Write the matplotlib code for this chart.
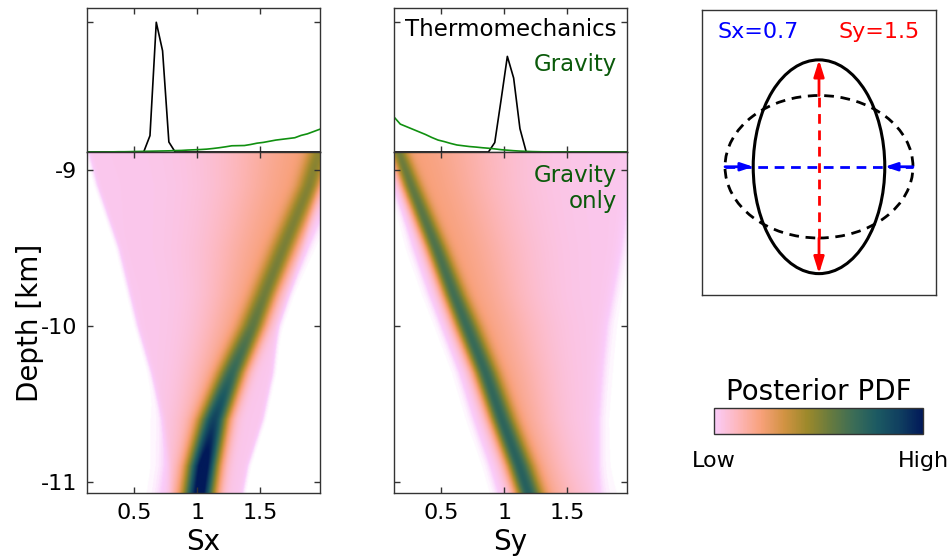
import numpy as np
import matplotlib
import matplotlib.pyplot as plt
from matplotlib.colors import LinearSegmentedColormap, Normalize
from matplotlib.cm import ScalarMappable
from matplotlib.patches import Ellipse

plt.rcParams['font.family'] = 'DejaVu Sans'
plt.rcParams['axes.unicode_minus'] = False

# batlow, reversed (low -> high)
batlow_r = ['#FACCFA', '#FDB7BC', '#F8A17B', '#D29343', '#9D892B',
            '#687B3E', '#3C6D56', '#1C5A62', '#103F60', '#011959']

# marginal histograms at the top (bin centres)
bins = np.round(np.arange(0.125, 2.0, 0.05), 3)
thermo_sx = np.zeros(len(bins))
thermo_sx[9:15] = [0.0, 0.126, 1.0, 0.78, 0.077, 0.0]
thermo_sy = np.zeros(len(bins))
thermo_sy[15:22] = [0.0, 0.073, 0.40, 0.737, 0.57, 0.18, 0.0]
grav_sx = [0.0, 0.0, 0.0, 0.0, 0.001, 0.002, 0.002, 0.003, 0.004, 0.005,
           0.006, 0.007, 0.008, 0.009, 0.011, 0.012, 0.015, 0.017, 0.019,
           0.022, 0.027, 0.033, 0.040, 0.048, 0.049, 0.050, 0.058, 0.068,
           0.074, 0.083, 0.092, 0.098, 0.104, 0.110, 0.128, 0.140, 0.158,
           0.176]
grav_sy = [0.27, 0.215, 0.195, 0.175, 0.155, 0.135, 0.112, 0.092, 0.080,
           0.066, 0.054, 0.048, 0.042, 0.038, 0.033, 0.029, 0.024, 0.018,
           0.014, 0.010, 0.007, 0.005, 0.003, 0.002, 0.001, 0.001, 0.0,
           0.0, 0.0, 0.0, 0.0, 0.0, 0.0, 0.0, 0.0, 0.0, 0.0, 0.0]

# posterior vs depth (gravity only): ridge position/width and support
depth = [-8.885, -9.1, -9.5, -9.8, -10.0, -10.3, -10.6, -10.9, -11.07]
sx_centre = [1.97, 1.89, 1.685, 1.535, 1.44, 1.275, 1.135, 1.05, 1.02]
sx_peak = [0.24, 0.26, 0.28, 0.30, 0.34, 0.45, 0.62, 0.82, 0.82]
sx_width = [0.065, 0.065, 0.07, 0.07, 0.072, 0.075, 0.08, 0.085, 0.085]
sx_spread_lo = [0.5, 0.45, 0.38, 0.3, 0.27, 0.22, 0.18, 0.15, 0.15]
sx_spread_hi = [0.1, 0.1, 0.09, 0.08, 0.08, 0.08, 0.08, 0.08, 0.08]
sx_lo = [0.14, 0.21, 0.38, 0.47, 0.53, 0.64, 0.73, 0.78, 0.79]
sx_hi = [2.1, 1.96, 1.84, 1.72, 1.64, 1.60, 1.52, 1.40, 1.36]

sy_centre = [0.16, 0.26, 0.46, 0.60, 0.70, 0.85, 0.98, 1.12, 1.19]
sy_peak = [0.30, 0.33, 0.38, 0.41, 0.43, 0.45, 0.47, 0.49, 0.50]
sy_width = [0.05, 0.055, 0.06, 0.065, 0.07, 0.07, 0.072, 0.075, 0.075]
sy_spread_lo = [0.06, 0.06, 0.06, 0.06, 0.06, 0.06, 0.06, 0.06, 0.06]
sy_spread_hi = [0.55, 0.5, 0.45, 0.4, 0.38, 0.33, 0.28, 0.25, 0.25]
sy_lo = [0.10, 0.17, 0.29, 0.42, 0.52, 0.66, 0.77, 0.90, 0.96]
sy_hi = [2.05, 2.0, 1.93, 1.86, 1.81, 1.77, 1.74, 1.73, 1.73]

sx_true = 0.7
sy_true = 1.5

xlim = (0.125, 1.975)
ylim = (-11.07, -8.885)


def density(centre, peak, width, spread_lo, spread_hi, lo, hi, soft):
    xs = np.linspace(xlim[0], xlim[1], 400)
    zs = np.linspace(ylim[1], ylim[0], 400)
    k = np.interp(zs, depth[::-1], np.arange(len(depth))[::-1])
    idx = np.arange(len(depth))
    p = lambda a: np.interp(k, idx, a)[:, None]
    c = p(centre)
    d = xs[None, :] - c
    spread = np.where(d < 0, p(spread_lo), p(spread_hi))
    z = p(peak) * np.exp(-0.5 * (d / p(width)) ** 2)
    z += 0.2 * np.exp(-0.5 * (d / spread) ** 2)
    box = 1 / (1 + np.exp(-(xs[None, :] - p(lo)) / soft))
    box *= 1 / (1 + np.exp((xs[None, :] - p(hi)) / soft))
    z += 0.05 * box
    return np.clip(z, 0, 1)


cmap = LinearSegmentedColormap.from_list('batlow_r', batlow_r)
img_colors = [(0.0, 'white')] + [(0.025 + 0.975 * i / 9, c)
                                 for i, c in enumerate(batlow_r)]
img_cmap = LinearSegmentedColormap.from_list('batlow_w', img_colors)

spine_c = '#333333'
green_line = '#109010'
green_text = '#0a5a0a'

fig = plt.figure(figsize=(9.51, 5.58), dpi=100)
W, H = 951, 558


def box(x0, y0, x1, y1):
    return [x0 / W, 1 - y1 / H, (x1 - x0) / W, (y1 - y0) / H]


def style(ax):
    for s in ax.spines.values():
        s.set_color(spine_c)
        s.set_linewidth(1.0)
    ax.tick_params(direction='in', length=4, width=1, color=spine_c,
                   top=True, right=True, labelsize=16, pad=7)


panels = [
    (87, 'Sx', thermo_sx, grav_sx,
     density(sx_centre, sx_peak, sx_width, sx_spread_lo, sx_spread_hi,
             sx_lo, sx_hi, 0.012)),
    (394, 'Sy', thermo_sy, grav_sy,
     density(sy_centre, sy_peak, sy_width, sy_spread_lo, sy_spread_hi,
             sy_lo, sy_hi, 0.03)),
]

for i, (x0, name, thermo, grav, field) in enumerate(panels):
    ax_top = fig.add_axes(box(x0, 8, x0 + 233, 152))
    ax = fig.add_axes(box(x0, 152, x0 + 233, 493))

    ax_top.plot(bins, thermo, color='black', lw=1.2)
    ax_top.plot(bins, grav, color=green_line, lw=1.2)
    ax_top.set_xlim(xlim)
    ax_top.set_ylim(0, 1.11)
    ax_top.set_xticks([0.5, 1, 1.5])
    ax_top.set_yticks([1])
    ax_top.set_xticklabels([])
    ax_top.set_yticklabels([])
    style(ax_top)

    ax.imshow(field, extent=[xlim[0], xlim[1], ylim[0], ylim[1]],
              aspect='auto', cmap=img_cmap, vmin=0, vmax=1,
              interpolation='bilinear')
    ax.set_xlim(xlim)
    ax.set_ylim(ylim)
    ax.set_xticks([0.5, 1, 1.5])
    ax.set_xticklabels(['0.5', '1', '1.5'])
    ax.set_yticks([-9, -10, -11])
    style(ax)
    ax.set_xlabel(name, fontsize=20, labelpad=4)
    if i == 0:
        ax.set_yticklabels(['-9', '-10', '-11'])
        ax.set_ylabel('Depth [km]', fontsize=20, labelpad=-2)
    else:
        ax.set_yticklabels([])
        ax_top.text(0.957, 0.85, 'Thermomechanics', transform=ax_top.transAxes,
                    ha='right', va='center', fontsize=16.5, color='black')
        ax_top.text(0.957, 0.61, 'Gravity', transform=ax_top.transAxes,
                    ha='right', va='center', fontsize=16.5, color=green_text)
        ax.text(0.957, 0.93, 'Gravity', transform=ax.transAxes,
                ha='right', va='center', fontsize=16.5, color=green_text)
        ax.text(0.957, 0.855, 'only', transform=ax.transAxes,
                ha='right', va='center', fontsize=16.5, color=green_text)

# strain sketch
ax_e = fig.add_axes(box(702, 10, 936, 295))
ax_e.set_xlim(-1.245, 1.245)
ax_e.set_ylim(-1.80, 2.20)
ax_e.set_xticks([])
ax_e.set_yticks([])
for s in ax_e.spines.values():
    s.set_color(spine_c)
    s.set_linewidth(1.0)

dash = (0, (3.5, 2.4))
ax_e.add_patch(Ellipse((0, 0), 2, 2, fill=False, color='black', lw=2.0,
                       linestyle=dash))
ax_e.add_patch(Ellipse((0, 0), 2 * sx_true, 2 * sy_true, fill=False,
                       color='black', lw=2.2))
ax_e.plot([0, 0], [-1, 1], color='red', lw=2.0, linestyle=dash)
ax_e.plot([-1, 1], [0, 0], color='blue', lw=2.0, linestyle=dash)
for sgn in (1, -1):
    ax_e.annotate('', xy=(0, sgn * sy_true), xytext=(0, sgn * 1.0),
                  arrowprops=dict(arrowstyle='-|>,head_length=0.7,head_width=0.22',
                                  color='red', lw=2.0, shrinkA=0, shrinkB=0,
                                  mutation_scale=14))
    ax_e.annotate('', xy=(sgn * sx_true, 0), xytext=(sgn * 1.0, 0),
                  arrowprops=dict(arrowstyle='-|>,head_length=0.6,head_width=0.2',
                                  color='blue', lw=2.0, shrinkA=0, shrinkB=0,
                                  mutation_scale=12))
ax_e.text(0.239, 0.923, f'Sx={sx_true}', transform=ax_e.transAxes,
          ha='center', va='center', fontsize=16, color='blue')
ax_e.text(0.756, 0.923, f'Sy={sy_true}', transform=ax_e.transAxes,
          ha='center', va='center', fontsize=16, color='red')

# colour bar
cax = fig.add_axes(box(714, 408, 923, 434))
sm = ScalarMappable(norm=Normalize(0, 1), cmap=cmap)
cb = fig.colorbar(sm, cax=cax, orientation='horizontal')
cb.set_ticks([])
cb.outline.set_edgecolor(spine_c)
cb.outline.set_linewidth(1.0)
cax.set_title('Posterior PDF', fontsize=20, pad=6)
cax.text(0, -1.27, 'Low', transform=cax.transAxes, ha='center',
         va='baseline', fontsize=16)
cax.text(1, -1.27, 'High', transform=cax.transAxes, ha='center',
         va='baseline', fontsize=16)

fig.savefig('out.png', dpi=100)
